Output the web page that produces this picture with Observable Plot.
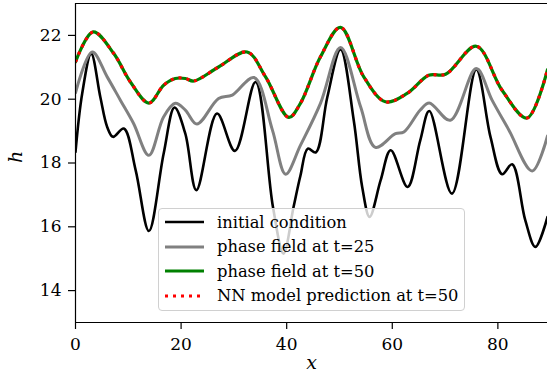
<!DOCTYPE html>
<html>
<head>
<meta charset="utf-8">
<script src="https://cdn.jsdelivr.net/npm/d3@7"></script>
<script src="https://cdn.jsdelivr.net/npm/@observablehq/plot@0.6"></script>
<style>
  html, body { margin: 0; padding: 0; background: #fff; }
  #wrap { position: relative; width: 547px; height: 382px; overflow: hidden; font-family: "DejaVu Serif", serif; }
  #legend { position: absolute; left: 158px; top: 208px; width: 307px; height: 103px; box-sizing: border-box;
            border: 1px solid #d0d0d0; border-radius: 4px; background: rgba(255,255,255,0.8); }
  .row { position: absolute; left: 6px; height: 24px; display: flex; align-items: center; font-size: 16.3px; color: #000; white-space: nowrap; font-family: "DejaVu Serif", serif; }
  .row svg { width: 39px; height: 6px; margin-right: 13px; }
  svg text { font-family: "DejaVu Serif", serif; }
</style>
</head>
<body>
<div id="wrap"></div>
<script>
// x positions and h values
const xInit = [0,1.27,2.97,4.7,6.0,7.1,9.15,11.4,13.9,16.7,18.75,20.8,22.9,26.8,30.2,34.1,37.4,39.4,41.3,42.6,44.0,45.5,47.7,50.2,52.7,54.3,55.7,57.8,59.7,62.9,65.3,67.0,71.3,75.9,78.6,80.8,82.7,85.2,87.1,89.4];
const hInit = [18.35,20.18,21.43,20.07,19.13,18.82,19.08,17.77,15.87,18.3,19.74,18.92,17.15,19.55,18.38,20.54,16.62,15.16,16.62,17.6,18.45,18.33,20.07,21.56,19.34,17.25,16.31,17.46,18.40,17.25,18.71,19.63,17.04,20.93,18.82,17.65,17.96,16.2,15.37,16.31];

const x25 = [0,3.16,6.0,8.5,11.0,13.9,16.7,18.9,20.8,23.0,27.1,29.7,33.8,37.3,39.8,42.6,46.4,50.2,54.0,56.8,60.6,62.2,65.3,67.0,71.0,75.9,78.9,82.1,86.5,89.4];
const h25 = [20.2,21.48,20.7,19.97,19.24,18.24,19.45,19.87,19.66,19.22,20.02,20.13,20.68,19.03,17.65,18.55,19.87,21.62,19.76,18.49,18.92,18.97,19.66,19.88,19.34,20.96,19.97,19.03,17.75,18.85];

const x50 = [0,3.35,7.25,10.4,13.9,16.7,18.9,20.8,22.4,27.1,32.5,36.0,40.4,42.6,46.4,50.2,54.6,58.7,62.8,66.9,70.1,75.9,80.8,85.5,89.4];
const h50 = [21.17,22.11,21.43,20.54,19.88,20.44,20.65,20.65,20.57,21.01,21.48,20.70,19.43,19.87,21.33,22.25,20.70,19.92,20.18,20.75,20.78,21.66,20.28,19.41,20.93];

const xNN = [0,3.35,7.25,10.4,13.9,16.7,18.9,20.8,22.4,27.1,32.5,36.0,40.4,42.6,46.4,50.2,54.6,58.7,62.8,66.9,70.1,75.9,80.8,85.5,89.4];
const hNN = [21.17,22.11,21.43,20.54,19.88,20.44,20.65,20.65,20.57,21.01,21.48,20.70,19.43,19.87,21.33,22.25,20.70,19.92,20.18,20.75,20.78,21.66,20.28,19.41,20.93];

const xDomain = [0, 89.4];
const yDomain = [13, 23];
const xTicks = [0, 20, 40, 60, 80];
const yTicks = [14, 16, 18, 20, 22];
const seriesLabels = ["initial condition", "phase field at t=25", "phase field at t=50", "NN model prediction at t=50"];

const zip = (xs, ys) => xs.map((x, i) => ({x, h: ys[i]}));
const dInit = zip(xInit, hInit), d25 = zip(x25, h25), d50 = zip(x50, h50), dNN = zip(xNN, hNN);

const serif = "'DejaVu Serif', serif";
const chart = Plot.plot({
  width: 547, height: 382,
  marginLeft: 75, marginTop: 3, marginRight: 0, marginBottom: 60,
  style: {fontFamily: serif, fontSize: "17px", color: "#000", background: "#fff"},
  x: {domain: xDomain, ticks: xTicks, tickSize: 7, tickPadding: 8, label: null},
  y: {domain: yDomain, ticks: yTicks, tickSize: 7, tickPadding: 7, label: null},
  marks: [
    Plot.line(dInit, {x: "x", y: "h", stroke: "#000000", strokeWidth: 2.6, curve: "catmull-rom", clip: true}),
    Plot.line(d25, {x: "x", y: "h", stroke: "#808080", strokeWidth: 3, curve: "catmull-rom", clip: true}),
    Plot.line(d50, {x: "x", y: "h", stroke: "#008000", strokeWidth: 3.2, curve: "catmull-rom", clip: true}),
    Plot.line(dNN, {x: "x", y: "h", stroke: "#ff0000", strokeWidth: 3.2, strokeDasharray: "3,5", strokeLinecap: "butt", curve: "catmull-rom", clip: true}),
    Plot.ruleY([yDomain[0], yDomain[1]], {stroke: "#000", strokeWidth: 1.2}),
    Plot.ruleX([xDomain[0]], {stroke: "#000", strokeWidth: 1.2}),
    Plot.text(["x"], {frameAnchor: "bottom", dy: 46, fontStyle: "italic", fontSize: 19, fill: "#000"}),
    Plot.text(["h"], {frameAnchor: "left", dx: -60, rotate: -90, fontStyle: "italic", fontSize: 19, fill: "#000"})
  ]
});
chart.querySelectorAll("g[aria-label='x-axis tick'] path, g[aria-label='y-axis tick'] path").forEach(p => p.setAttribute("stroke-width", "1.2"));
const wrap = document.getElementById("wrap");
wrap.appendChild(chart);

// legend
const legend = document.createElement("div");
legend.id = "legend";
const handles = [
  {stroke: "#000000", w: 2.6, dash: null},
  {stroke: "#808080", w: 3, dash: null},
  {stroke: "#008000", w: 3.2, dash: null},
  {stroke: "#ff0000", w: 3.2, dash: "3,5"}
];
seriesLabels.forEach((lab, i) => {
  const row = document.createElement("div");
  row.className = "row";
  row.style.top = (1 + i * 24.6) + "px";
  const h = handles[i];
  row.innerHTML = `<svg viewBox="0 0 39 6"><line x1="0" y1="3" x2="39" y2="3" stroke="${h.stroke}" stroke-width="${h.w}" ${h.dash ? `stroke-dasharray="${h.dash}"` : ""}/></svg><span>${lab}</span>`;
  legend.appendChild(row);
});
wrap.appendChild(legend);
</script>
</body>
</html>
